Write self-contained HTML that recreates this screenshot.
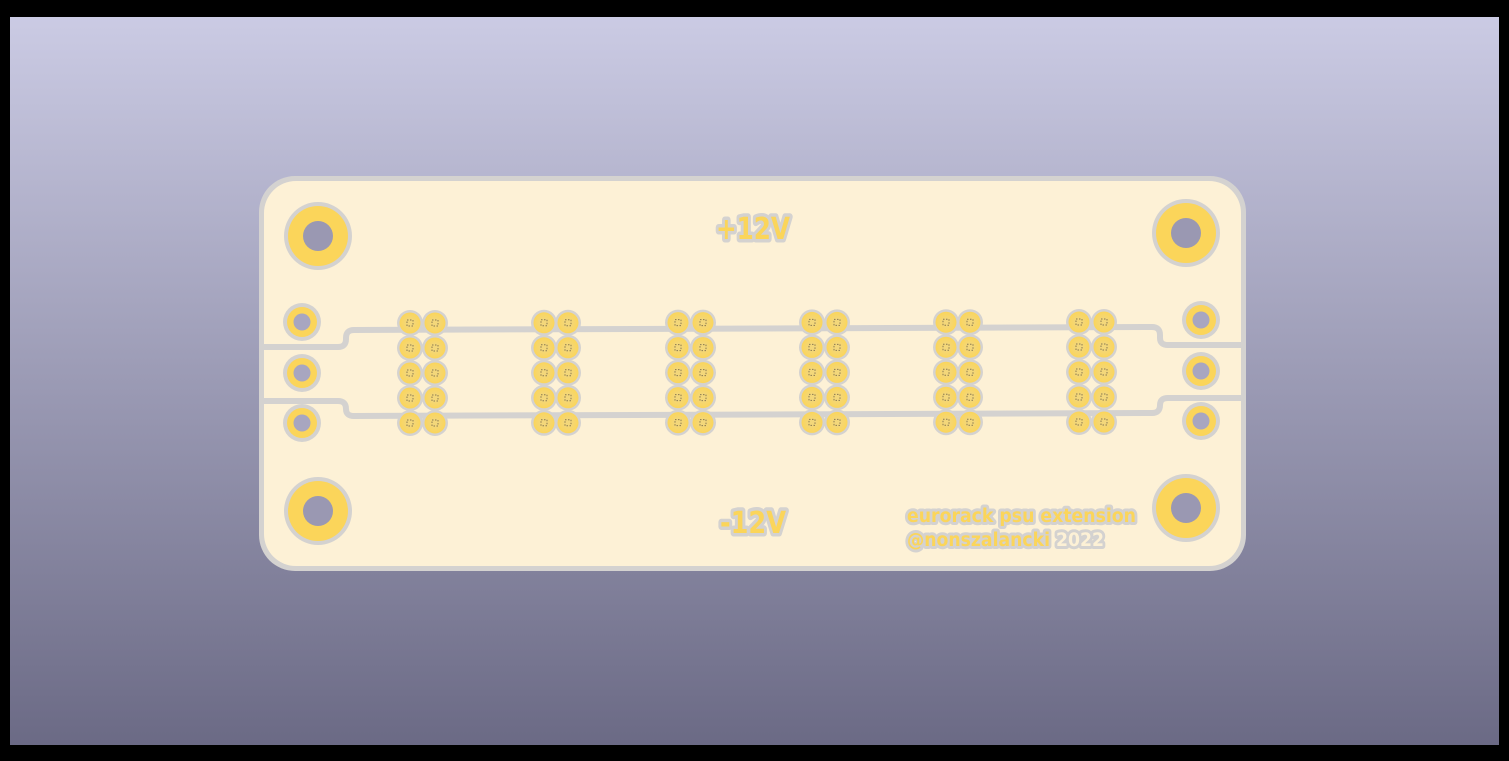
<!DOCTYPE html>
<html><head><meta charset="utf-8"><style>
html,body{margin:0;padding:0;background:#000;width:1509px;height:761px;overflow:hidden}
svg{display:block}
text{font-family:"DejaVu Sans","Liberation Sans",sans-serif;font-weight:bold}
</style></head><body>
<svg width="1509" height="761" viewBox="0 0 1509 761">
<defs>
<linearGradient id="bg" x1="0" y1="0" x2="0" y2="1">
<stop offset="0" stop-color="#cbcbe4"/><stop offset="1" stop-color="#6b6a85"/>
</linearGradient>
<radialGradient id="pad" cx="0.5" cy="0.5" r="0.5">
<stop offset="0.3" stop-color="#f3d77a"/><stop offset="1" stop-color="#fbd55a"/>
</radialGradient>
</defs>
<rect x="10" y="17" width="1489" height="728" fill="url(#bg)"/>
<g>
<rect x="259" y="176" width="987" height="395" rx="36" fill="#d4d2d0"/>
<rect x="264" y="181" width="977" height="385" rx="32" fill="#fdf1d6"/>
</g>
<g id="traces" fill="none" stroke="#d4d2d0" stroke-width="6">
<path d="M264 347 H338 Q346 347 346 339 V338 Q346 330 354 330 L1152 327 Q1160 327 1160 335 V338 Q1160 345 1168 345 H1241"/>
<path d="M264 401 H338 Q346 401 346 409 Q346 416 354 416 L1152 413 Q1160 413 1160 405 Q1160 398 1168 398 H1241"/>
</g>
<g id="mount"></g>
<g id="side"></g>
<g id="pads"></g>
<g>
<text x="716" y="239" font-size="30" textLength="74" lengthAdjust="spacingAndGlyphs" fill="#fbd55a" stroke="#d4d2d0" stroke-width="7" paint-order="stroke" stroke-linejoin="round">+12V</text>
<text x="720" y="533" font-size="30" textLength="66" lengthAdjust="spacingAndGlyphs" fill="#fbd55a" stroke="#d4d2d0" stroke-width="7" paint-order="stroke" stroke-linejoin="round">-12V</text>
<text x="907" y="522" font-size="18.5" textLength="229" lengthAdjust="spacingAndGlyphs" fill="#fbd55a" stroke="#d4d2d0" stroke-width="6" paint-order="stroke" stroke-linejoin="round">eurorack psu extension</text>
<text x="907" y="546" font-size="18.5" textLength="197" lengthAdjust="spacingAndGlyphs" fill="#fbd55a" stroke="#d4d2d0" stroke-width="6" paint-order="stroke" stroke-linejoin="round">@nonszalancki <tspan fill="#fdf1d6">2022</tspan></text>
</g>
</svg>
<script>
const NS="http://www.w3.org/2000/svg";
function c(p,cx,cy,r,f){const e=document.createElementNS(NS,'circle');e.setAttribute('cx',cx);e.setAttribute('cy',cy);e.setAttribute('r',r);e.setAttribute('fill',f);p.appendChild(e);return e;}
const mountX=[318,1186,318,1186], mountY=[236,233,511,508];
const mg=document.getElementById('mount');
for(let i=0;i<4;i++){
 const g=document.createElementNS(NS,'g');
 
 
 c(g,mountX[i],mountY[i],34,'#d4d2d0');c(g,mountX[i],mountY[i],30,'#fbd55a');c(g,mountX[i],mountY[i],15,'#9a98b2');
 mg.appendChild(g);
}
const sideX=[302,302,302,1201,1201,1201], sideY=[322,373,423,320,371,421];
const sg=document.getElementById('side');
for(let i=0;i<6;i++){
 const g=document.createElementNS(NS,'g');
 
 
 c(g,sideX[i],sideY[i],19,'#d4d2d0');c(g,sideX[i],sideY[i],15,'#fbd55a');c(g,sideX[i],sideY[i],8.5,'#a8a6c0');
 sg.appendChild(g);
}
const colX=[410,435,544,568,678,703,812,837,946,970,1079,1104];
const rowY=[322,347,372,397,422];
const pg=document.getElementById('pads');
colX.forEach((x,ci)=>{rowY.forEach((y0,ri)=>{
 const y=y0+1-(x-410)/700;
 const g=document.createElementNS(NS,'g');
 
 
 c(g,x,y,13,'#d4d2d0');c(g,x,y,10.5,'url(#pad)');
 const r=document.createElementNS(NS,'rect');
 r.setAttribute('x',x-3);r.setAttribute('y',y-3);r.setAttribute('width',6);r.setAttribute('height',6);
 r.setAttribute('fill','none');r.setAttribute('stroke','#8a7a50');r.setAttribute('stroke-width','1');r.setAttribute('stroke-dasharray','1.5 1.5');
 g.appendChild(r);
 pg.appendChild(g);
});});
</script>
</body></html>
